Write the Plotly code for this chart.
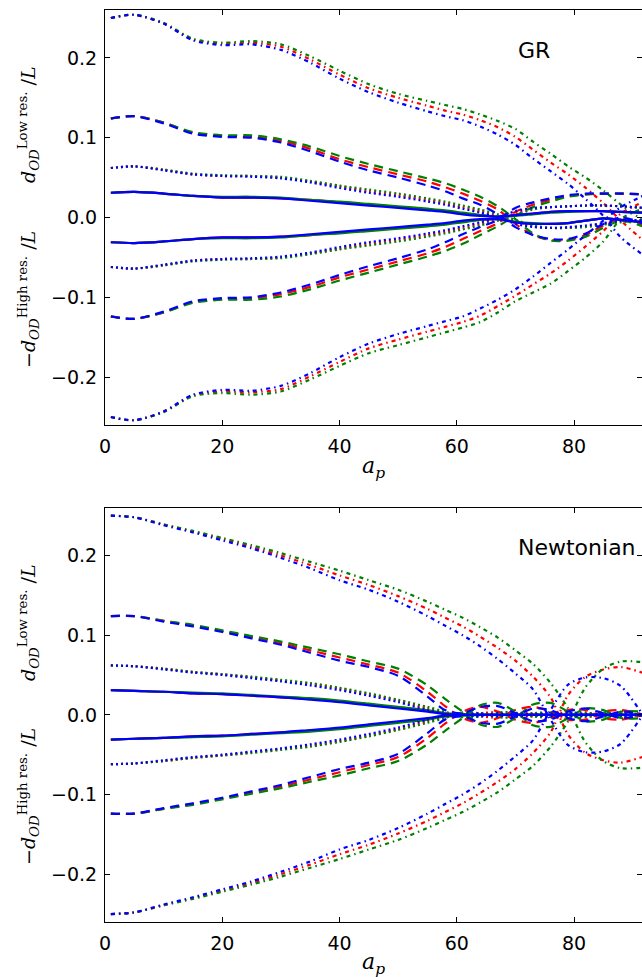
import plotly.graph_objects as go

# ---------------- data ----------------
a_p = [1, 5, 10, 15, 20, 25, 30, 35, 40, 45, 50, 55, 58, 61, 64, 67, 70, 73, 76, 79, 82, 85, 88, 92]

# GR panel: dd = dash-dot (0.25), da = dashed (0.125), do = dotted (0.0625), so = solid (0.031)
gr_dd_pos_r = [0.250,0.254,0.243,0.223,0.218,0.219,0.214,0.198,0.179,0.162,0.150,0.140,0.134,0.129,0.122,0.113,0.101,0.085,0.069,0.054,0.037,0.018,-0.004,-0.030]
gr_dd_pos_g = [0.250,0.254,0.244,0.224,0.219,0.221,0.217,0.202,0.184,0.167,0.155,0.146,0.141,0.136,0.129,0.121,0.111,0.095,0.080,0.064,0.050,0.034,0.016,-0.005]
gr_dd_pos_b = [0.250,0.254,0.243,0.222,0.216,0.217,0.210,0.194,0.174,0.157,0.144,0.133,0.127,0.122,0.114,0.104,0.091,0.074,0.058,0.042,0.023,0.002,-0.025,-0.048]
gr_dd_neg_r = [-0.250,-0.254,-0.243,-0.223,-0.218,-0.219,-0.215,-0.199,-0.181,-0.164,-0.153,-0.143,-0.137,-0.131,-0.123,-0.111,-0.098,-0.084,-0.070,-0.054,-0.036,-0.017,0.005,0.020]
gr_dd_neg_g = [-0.250,-0.254,-0.244,-0.224,-0.220,-0.222,-0.218,-0.203,-0.186,-0.170,-0.160,-0.150,-0.144,-0.138,-0.131,-0.119,-0.105,-0.094,-0.083,-0.067,-0.050,-0.030,-0.002,0.012]
gr_dd_neg_b = [-0.250,-0.254,-0.243,-0.222,-0.216,-0.217,-0.211,-0.195,-0.175,-0.158,-0.146,-0.136,-0.130,-0.124,-0.114,-0.103,-0.090,-0.074,-0.057,-0.040,-0.022,-0.004,0.013,0.028]

gr_da_pos_r = [0.124,0.127,0.119,0.106,0.102,0.101,0.096,0.086,0.073,0.063,0.054,0.045,0.038,0.030,0.021,0.010,-0.008,-0.022,-0.028,-0.028,-0.022,-0.010,-0.002,-0.010]
gr_da_pos_g = [0.124,0.127,0.119,0.107,0.103,0.103,0.098,0.089,0.077,0.067,0.058,0.049,0.043,0.035,0.026,0.014,-0.002,-0.020,-0.029,-0.029,-0.024,-0.013,-0.004,-0.012]
gr_da_pos_b = [0.124,0.127,0.118,0.105,0.101,0.100,0.094,0.083,0.070,0.059,0.050,0.040,0.033,0.024,0.016,0.004,-0.012,-0.022,-0.027,-0.027,-0.020,-0.008,0.000,-0.008]
gr_da_neg_r = [-0.124,-0.127,-0.119,-0.106,-0.102,-0.101,-0.096,-0.087,-0.075,-0.065,-0.055,-0.045,-0.037,-0.027,-0.017,-0.007,0.007,0.016,0.022,0.027,0.029,0.030,0.030,0.029]
gr_da_neg_g = [-0.124,-0.127,-0.119,-0.107,-0.103,-0.103,-0.099,-0.090,-0.079,-0.069,-0.059,-0.049,-0.042,-0.033,-0.022,-0.011,0.002,0.013,0.020,0.026,0.029,0.030,0.030,0.029]
gr_da_neg_b = [-0.124,-0.127,-0.118,-0.105,-0.101,-0.100,-0.094,-0.084,-0.072,-0.061,-0.051,-0.040,-0.031,-0.021,-0.012,-0.003,0.012,0.019,0.024,0.028,0.030,0.030,0.030,0.029]

gr_do_pos_r = [0.062,0.064,0.060,0.054,0.052,0.052,0.050,0.045,0.039,0.033,0.028,0.022,0.018,0.013,0.008,0.002,-0.005,-0.011,-0.013,-0.013,-0.011,-0.008,-0.005,-0.004]
gr_do_pos_g = [0.062,0.064,0.060,0.055,0.053,0.052,0.051,0.046,0.040,0.035,0.030,0.024,0.020,0.015,0.010,0.004,-0.003,-0.010,-0.013,-0.013,-0.012,-0.009,-0.006,-0.005]
gr_do_pos_b = [0.062,0.064,0.059,0.054,0.052,0.051,0.049,0.044,0.037,0.031,0.026,0.020,0.016,0.011,0.006,0.000,-0.008,-0.012,-0.013,-0.012,-0.010,-0.007,-0.004,-0.003]
gr_do_neg_r = [-0.062,-0.064,-0.060,-0.054,-0.052,-0.052,-0.050,-0.045,-0.039,-0.033,-0.028,-0.022,-0.018,-0.013,-0.008,-0.002,0.005,0.011,0.013,0.014,0.015,0.015,0.014,0.012]
gr_do_neg_g = [-0.062,-0.064,-0.060,-0.055,-0.053,-0.052,-0.051,-0.046,-0.040,-0.035,-0.030,-0.024,-0.020,-0.015,-0.010,-0.004,0.003,0.010,0.013,0.014,0.015,0.015,0.014,0.012]
gr_do_neg_b = [-0.062,-0.064,-0.059,-0.054,-0.052,-0.051,-0.049,-0.044,-0.037,-0.031,-0.026,-0.020,-0.016,-0.011,-0.006,0.000,0.008,0.012,0.013,0.014,0.015,0.015,0.014,0.012]

gr_so_pos_r = [0.031,0.032,0.030,0.027,0.025,0.025,0.024,0.022,0.019,0.016,0.013,0.010,0.008,0.005,0.003,0.001,0.003,0.005,0.007,0.008,0.008,0.008,0.007,0.006]
gr_so_pos_g = [0.031,0.032,0.030,0.027,0.026,0.026,0.025,0.022,0.020,0.017,0.014,0.011,0.009,0.006,0.003,0.001,0.002,0.004,0.006,0.007,0.008,0.008,0.007,0.006]
gr_so_pos_b = [0.031,0.032,0.030,0.027,0.025,0.025,0.024,0.021,0.018,0.015,0.012,0.009,0.007,0.004,0.002,0.001,0.003,0.005,0.007,0.008,0.008,0.008,0.007,0.006]
gr_so_neg_r = [-0.031,-0.032,-0.030,-0.027,-0.025,-0.025,-0.024,-0.022,-0.019,-0.016,-0.013,-0.010,-0.008,-0.005,-0.003,-0.002,-0.006,-0.008,-0.008,-0.007,-0.004,-0.001,-0.003,-0.006]
gr_so_neg_g = [-0.031,-0.032,-0.030,-0.027,-0.026,-0.026,-0.025,-0.022,-0.020,-0.017,-0.014,-0.011,-0.009,-0.006,-0.003,-0.002,-0.005,-0.007,-0.008,-0.007,-0.004,-0.001,-0.003,-0.006]
gr_so_neg_b = [-0.031,-0.032,-0.030,-0.027,-0.025,-0.025,-0.024,-0.021,-0.018,-0.015,-0.012,-0.009,-0.007,-0.004,-0.002,-0.002,-0.006,-0.008,-0.008,-0.007,-0.004,-0.001,-0.003,-0.006]

# Newtonian panel
nw_dd_pos_r = [0.250,0.248,0.239,0.230,0.221,0.211,0.200,0.188,0.175,0.163,0.149,0.133,0.122,0.111,0.098,0.084,0.068,0.048,0.022,-0.025,-0.048,-0.057,-0.060,-0.052]
nw_dd_pos_g = [0.250,0.248,0.239,0.231,0.222,0.213,0.203,0.192,0.181,0.169,0.157,0.142,0.132,0.122,0.110,0.097,0.081,0.064,0.040,0.008,-0.035,-0.058,-0.067,-0.066]
nw_dd_pos_b = [0.250,0.248,0.238,0.229,0.219,0.209,0.197,0.184,0.169,0.157,0.142,0.124,0.112,0.100,0.086,0.070,0.052,0.032,-0.006,-0.038,-0.047,-0.046,-0.036,0.003]
nw_dd_neg_r = [-0.250,-0.248,-0.239,-0.230,-0.221,-0.211,-0.200,-0.188,-0.175,-0.163,-0.149,-0.133,-0.122,-0.111,-0.098,-0.084,-0.068,-0.048,-0.022,0.025,0.048,0.057,0.060,0.052]
nw_dd_neg_g = [-0.250,-0.248,-0.239,-0.231,-0.222,-0.213,-0.203,-0.192,-0.181,-0.169,-0.157,-0.142,-0.132,-0.122,-0.110,-0.097,-0.081,-0.064,-0.040,-0.008,0.035,0.058,0.067,0.066]
nw_dd_neg_b = [-0.250,-0.248,-0.238,-0.229,-0.219,-0.209,-0.197,-0.184,-0.169,-0.157,-0.142,-0.124,-0.112,-0.100,-0.086,-0.070,-0.052,-0.032,0.006,0.038,0.047,0.046,0.036,-0.003]

nw_da_pos_r = [0.124,0.124,0.118,0.112,0.105,0.098,0.090,0.081,0.072,0.063,0.053,0.029,0.011,-0.004,-0.010,-0.004,0.006,0.010,0.004,-0.006,-0.006,0.004,0.006,0.000]
nw_da_pos_g = [0.124,0.124,0.118,0.113,0.106,0.099,0.092,0.084,0.076,0.067,0.058,0.037,0.020,0.004,-0.012,-0.015,-0.004,0.013,0.015,0.004,-0.008,-0.006,0.004,0.004]
nw_da_pos_b = [0.124,0.124,0.117,0.111,0.104,0.096,0.088,0.078,0.068,0.060,0.049,0.023,0.006,0.002,0.010,0.011,0.002,-0.008,-0.006,0.004,0.008,0.002,-0.004,0.000]
nw_da_neg_r = [-0.124,-0.124,-0.118,-0.112,-0.105,-0.098,-0.090,-0.081,-0.072,-0.063,-0.053,-0.029,-0.011,0.004,0.010,0.004,-0.006,-0.010,-0.004,0.006,0.006,-0.004,-0.006,0.000]
nw_da_neg_g = [-0.124,-0.124,-0.118,-0.113,-0.106,-0.099,-0.092,-0.084,-0.076,-0.067,-0.058,-0.037,-0.020,-0.004,0.012,0.015,0.004,-0.013,-0.015,-0.004,0.008,0.006,-0.004,-0.004]
nw_da_neg_b = [-0.124,-0.124,-0.117,-0.111,-0.104,-0.096,-0.088,-0.078,-0.068,-0.060,-0.049,-0.023,-0.006,-0.002,-0.010,-0.011,-0.002,0.008,0.006,-0.004,-0.008,-0.002,0.004,0.000]

nw_do_pos_r = [0.062,0.061,0.058,0.054,0.051,0.047,0.043,0.039,0.033,0.026,0.018,0.008,0.003,-0.002,0.002,0.003,-0.002,-0.002,0.002,0.002,-0.002,-0.001,0.002,0.000]
nw_do_pos_g = [0.062,0.061,0.058,0.054,0.051,0.048,0.044,0.040,0.034,0.027,0.019,0.010,0.004,-0.003,-0.002,0.003,0.003,-0.002,-0.003,0.002,0.003,-0.002,-0.002,0.001]
nw_do_pos_b = [0.062,0.061,0.057,0.053,0.050,0.046,0.042,0.037,0.031,0.024,0.016,0.006,0.001,0.000,0.002,-0.002,0.002,0.000,-0.002,0.002,0.001,-0.001,0.001,0.000]
nw_do_neg_r = [-0.062,-0.061,-0.058,-0.054,-0.051,-0.047,-0.043,-0.039,-0.033,-0.026,-0.018,-0.008,-0.003,0.002,-0.002,-0.003,0.002,0.002,-0.002,-0.002,0.002,0.001,-0.002,0.000]
nw_do_neg_g = [-0.062,-0.061,-0.058,-0.054,-0.051,-0.048,-0.044,-0.040,-0.034,-0.027,-0.019,-0.010,-0.004,0.003,0.002,-0.003,-0.003,0.002,0.003,-0.002,-0.003,0.002,0.002,-0.001]
nw_do_neg_b = [-0.062,-0.061,-0.057,-0.053,-0.050,-0.046,-0.042,-0.037,-0.031,-0.024,-0.016,-0.006,-0.001,0.000,-0.002,0.002,-0.002,0.000,0.002,-0.002,-0.001,0.001,-0.001,0.000]

nw_so_pos_r = [0.031,0.030,0.029,0.027,0.026,0.024,0.022,0.020,0.017,0.013,0.009,0.005,0.002,0.000,0.000,0.000,0.000,0.000,0.000,0.000,0.000,0.000,0.000,0.000]
nw_so_pos_g = [0.031,0.030,0.029,0.028,0.027,0.025,0.023,0.021,0.018,0.014,0.010,0.006,0.002,0.001,0.000,0.000,0.000,0.000,0.000,0.000,0.000,0.000,0.000,0.000]
nw_so_pos_b = [0.031,0.030,0.029,0.027,0.026,0.024,0.022,0.019,0.016,0.012,0.008,0.004,0.001,0.000,0.000,0.000,0.000,0.000,0.000,0.000,0.000,0.000,0.000,0.000]
nw_so_neg_r = [-0.031,-0.030,-0.029,-0.027,-0.026,-0.024,-0.022,-0.020,-0.017,-0.013,-0.009,-0.005,-0.002,0.000,0.000,0.000,0.000,0.000,0.000,0.000,0.000,0.000,0.000,0.000]
nw_so_neg_g = [-0.031,-0.030,-0.029,-0.028,-0.027,-0.025,-0.023,-0.021,-0.018,-0.014,-0.010,-0.006,-0.002,-0.001,0.000,0.000,0.000,0.000,0.000,0.000,0.000,0.000,0.000,0.000]
nw_so_neg_b = [-0.031,-0.030,-0.029,-0.027,-0.026,-0.024,-0.022,-0.019,-0.016,-0.012,-0.008,-0.004,-0.001,0.000,0.000,0.000,0.000,0.000,0.000,0.000,0.000,0.000,0.000,0.000]

y_ticks = [-0.2, -0.1, 0.0, 0.1, 0.2]
x_ticks = [0, 20, 40, 60, 80]
panel_labels = ["GR", "Newtonian"]

# ---------------- styling ----------------
COLORS = {"r": "#ff0000", "g": "#008000", "b": "#0000ff"}
DASHES = {"dd": "4px,4px,1.5px,4px", "da": "9px,6px", "do": "2px,3px", "so": "solid"}

panels = {
    "gr": {
        "dd": {"r": (gr_dd_pos_r, gr_dd_neg_r), "g": (gr_dd_pos_g, gr_dd_neg_g), "b": (gr_dd_pos_b, gr_dd_neg_b)},
        "da": {"r": (gr_da_pos_r, gr_da_neg_r), "g": (gr_da_pos_g, gr_da_neg_g), "b": (gr_da_pos_b, gr_da_neg_b)},
        "do": {"r": (gr_do_pos_r, gr_do_neg_r), "g": (gr_do_pos_g, gr_do_neg_g), "b": (gr_do_pos_b, gr_do_neg_b)},
        "so": {"r": (gr_so_pos_r, gr_so_neg_r), "g": (gr_so_pos_g, gr_so_neg_g), "b": (gr_so_pos_b, gr_so_neg_b)},
    },
    "nw": {
        "dd": {"r": (nw_dd_pos_r, nw_dd_neg_r), "g": (nw_dd_pos_g, nw_dd_neg_g), "b": (nw_dd_pos_b, nw_dd_neg_b)},
        "da": {"r": (nw_da_pos_r, nw_da_neg_r), "g": (nw_da_pos_g, nw_da_neg_g), "b": (nw_da_pos_b, nw_da_neg_b)},
        "do": {"r": (nw_do_pos_r, nw_do_neg_r), "g": (nw_do_pos_g, nw_do_neg_g), "b": (nw_do_pos_b, nw_do_neg_b)},
        "so": {"r": (nw_so_pos_r, nw_so_neg_r), "g": (nw_so_pos_g, nw_so_neg_g), "b": (nw_so_pos_b, nw_so_neg_b)},
    },
}

fig = go.Figure()
axis_ids = {"gr": ("x", "y"), "nw": ("x2", "y2")}
for pname, styles in panels.items():
    xa, ya = axis_ids[pname]
    for col in ["r", "g", "b"]:
        for sty in ["dd", "da", "do", "so"]:
            for series in styles[sty][col]:
                fig.add_trace(go.Scatter(
                    x=a_p, y=series, mode="lines", xaxis=xa, yaxis=ya,
                    line=dict(color=COLORS[col], width=2.2, dash=DASHES[sty],
                              shape="spline", smoothing=0.8),
                    showlegend=False, hoverinfo="skip"))

W, H = 642, 977
ML, MR, MT, MB = 105, 0, 10, 55
plot_h = H - MT - MB

def py(px):  # pixel y -> paper y
    return (H - MB - px) / plot_h

def px_(x):  # pixel x -> paper x
    return (x - ML) / (W - ML - MR)

tick_font = dict(family="DejaVu Sans", size=19, color="black")
xcommon = dict(range=[0, 91.6], tickvals=x_ticks, ticks="inside", ticklen=5, tickwidth=1,
               tickcolor="black", showline=True, linecolor="black", linewidth=1, mirror="ticks",
               showgrid=False, zeroline=False, tickfont=tick_font, ticklabelstandoff=4)
ycommon = dict(range=[-0.26, 0.26], tickvals=y_ticks, tickformat=".1f", ticks="inside", ticklen=5,
               tickwidth=1, tickcolor="black", showline=True, linecolor="black", linewidth=1,
               mirror="ticks", showgrid=False, zeroline=False, tickfont=tick_font, ticklabelstandoff=3)

fig.update_layout(
    width=W, height=H, margin=dict(l=ML, r=MR, t=MT, b=MB),
    paper_bgcolor="white", plot_bgcolor="white", showlegend=False,
    xaxis=dict(domain=[0, 1], anchor="y", **xcommon),
    yaxis=dict(domain=[py(425), 1], anchor="x", **ycommon),
    xaxis2=dict(domain=[0, 1], anchor="y2", **xcommon),
    yaxis2=dict(domain=[0, py(507.7)], anchor="x2", **ycommon),
)

serif = dict(family="DejaVu Serif", size=19, color="black")
ann = []
# panel labels
ann.append(dict(text=panel_labels[0], x=px_(516), y=py(50), xref="paper", yref="paper",
                xanchor="left", yanchor="middle", showarrow=False,
                font=dict(family="DejaVu Sans", size=22, color="black")))
ann.append(dict(text=panel_labels[1], x=px_(516), y=py(547), xref="paper", yref="paper",
                xanchor="left", yanchor="middle", showarrow=False,
                font=dict(family="DejaVu Sans", size=22, color="black")))
# x titles
for ypx in (467, 963):
    ann.append(dict(text="<i>a</i><sub><i>p</i></sub>", x=0.5, y=py(ypx), xref="paper", yref="paper",
                    xanchor="center", yanchor="middle", showarrow=False,
                    font=dict(family="DejaVu Serif", size=22, color="black")))
# y titles
low = "<i>d</i><sub><i>OD</i></sub><sup>Low res.</sup> /<i>L</i>"
high = "\u2212<i>d</i><sub><i>OD</i></sub><sup>High res.</sup> /<i>L</i>"
for ypx, txt in ((125, low), (300, high), (623, low), (797, high)):
    ann.append(dict(text=txt, x=px_(28), y=py(ypx), xref="paper", yref="paper",
                    xanchor="center", yanchor="middle", showarrow=False, textangle=-90,
                    font=serif))
fig.update_layout(annotations=ann)

fig.write_html("out.html")
